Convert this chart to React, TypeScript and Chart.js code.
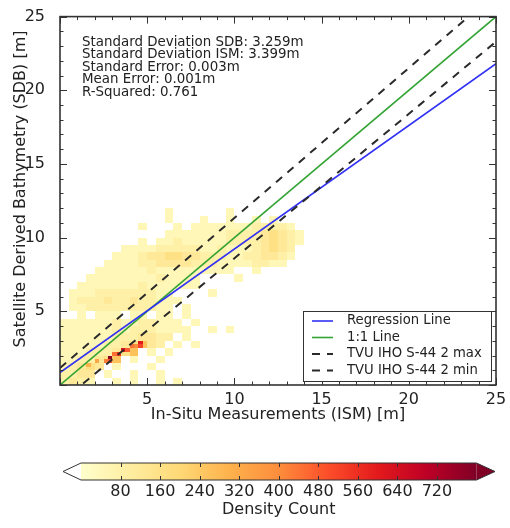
import React, { useEffect, useRef } from 'react';
import { Chart, registerables } from 'chart.js';

Chart.register(...registerables);

const FONT = '"DejaVu Sans", "Liberation Sans", sans-serif';
const TEXT = '#222222';

// Axes
const axisMin = 0;
const axisMax = 25;
const majorStep = 5;
const minorStep = 1;
const xTitle = 'In-Situ Measurements (ISM) [m]';
const yTitle = 'Satellite Derived Bathymetry (SDB) [m]';

// Lines (x endpoints shared)
const lineX = [0, 25];
const regressionY = [0.85, 21.8];
const oneToOneY = [0, 25];
const tvuMaxY = [1.15, 26.6];
const tvuMinY = [-1.2, 23.3];

const legendLabels = ['Regression Line', '1:1 Line', 'TVU IHO S-44 2 max', 'TVU IHO S-44 2 min'];

const statLines = [
  'Standard Deviation SDB: 3.259m',
  'Standard Deviation ISM: 3.399m',
  'Standard Error: 0.003m',
  'Mean Error: 0.001m',
  'R-Squared: 0.761',
];

// Density grid: 0.5 m bins, rows from y=12 downward, columns from x=0
const densityBin = 0.5;
const densityTopY = 12;
const densityLevels = [0, 45, 85, 120, 165, 260, 400, 480, 580, 760];
const densityRows = [
  '            1      1        ',
  '            1   1  1  1 1   ',
  '         1   1 111111122221 ',
  '            1111111222234321',
  '         1 11211111222234321',
  '       11112222211211123432 ',
  '      111233443322211223321 ',
  '     111122333322211112211  ',
  '    1111112111111111  1     ',
  '   1111111121111    1       ',
  '  11111112111111            ',
  ' 111222222211    1          ',
  ' 1222322322111              ',
  ' 112222222211 1             ',
  '  1 111 11 11 1             ',
  '11111121122111 1            ',
  '111111212221111  1 1        ',
  '1111112223322 1             ',
  '111112234532 1 1            ',
  '111222345 1 1               ',
  '1122345 1  1                ',
  '12343 1   1                 ',
  '2233 1  1  1                ',
  '2321  1 1  1 1              ',
];

// High-density cells at 0.25 m resolution: [x, y, count]
const hotBin = 0.25;
const hotCells: [number, number, number][] = [
  [2.75, 1.75, 780],
  [2.5, 1.5, 420],
  [2.75, 1.5, 500],
  [3.0, 2.0, 450],
  [3.25, 2.0, 560],
  [3.5, 2.25, 620],
  [3.75, 2.25, 480],
  [4.0, 2.5, 440],
  [4.25, 2.5, 400],
  [4.5, 2.75, 600],
  [4.5, 2.5, 520],
  [1.5, 1.25, 300],
  [2.0, 1.5, 330],
];

// Colour bar
const colorbarMin = 0;
const colorbarMax = 800;
const colorbarTicks = [80, 160, 240, 320, 400, 480, 560, 640, 720];
const colorbarTitle = 'Density Count';
const ylOrRd = ['#ffffcc', '#ffeda0', '#fed976', '#feb24c', '#fd8d3c', '#fc4e2a', '#e31a1c', '#bd0026', '#800026'];

const BLUE = '#3232f5';
const GREEN = '#33a333';
const DASH = '#2a2a2a';
const DASH_PATTERN = [8, 7];

function hexToRgb(h: string) {
  const n = parseInt(h.slice(1), 16);
  return [(n >> 16) & 255, (n >> 8) & 255, n & 255];
}

function cmap(v: number) {
  const t = Math.max(0, Math.min(1, (v - colorbarMin) / (colorbarMax - colorbarMin)));
  const s = t * (ylOrRd.length - 1);
  const i = Math.min(Math.floor(s), ylOrRd.length - 2);
  const f = s - i;
  const a = hexToRgb(ylOrRd[i]);
  const b = hexToRgb(ylOrRd[i + 1]);
  const c = a.map((av, k) => Math.round(av + (b[k] - av) * f));
  return `rgb(${c[0]},${c[1]},${c[2]})`;
}

const heatmapPlugin = {
  id: 'heatmap',
  beforeDatasetsDraw(chart: any) {
    const { ctx, chartArea, scales } = chart;
    const xs = scales.x;
    const ys = scales.y;
    ctx.save();
    ctx.beginPath();
    ctx.rect(chartArea.left, chartArea.top, chartArea.right - chartArea.left, chartArea.bottom - chartArea.top);
    ctx.clip();
    const drawCell = (x0: number, y0: number, size: number, v: number) => {
      const px0 = xs.getPixelForValue(x0);
      const px1 = xs.getPixelForValue(x0 + size);
      const py0 = ys.getPixelForValue(y0 + size);
      const py1 = ys.getPixelForValue(y0);
      ctx.fillStyle = cmap(v);
      const l = Math.round(px0), r = Math.round(px1), t = Math.round(py0), b = Math.round(py1);
      ctx.fillRect(l, t, r - l, b - t);
    };
    densityRows.forEach((row, r) => {
      for (let c = 0; c < row.length; c++) {
        const ch = row[c];
        if (ch === ' ') continue;
        drawCell(c * densityBin, densityTopY - (r + 1) * densityBin, densityBin, densityLevels[Number(ch)]);
      }
    });
    hotCells.forEach(([hx, hy, v]) => drawCell(hx, hy, hotBin, v));
    ctx.restore();
  },
};

const decorPlugin = {
  id: 'decor',
  afterDatasetsDraw(chart: any) {
    const { ctx, chartArea, scales } = chart;
    const xs = scales.x;
    const ys = scales.y;
    const { left, right, top, bottom } = chartArea;
    ctx.save();
    // ticks (inward on all sides)
    ctx.strokeStyle = '#333';
    ctx.lineWidth = 1;
    ctx.beginPath();
    for (let v = axisMin; v <= axisMax; v += minorStep) {
      const major = v % majorStep === 0;
      const len = major ? 7 : 3.5;
      const px = Math.round(xs.getPixelForValue(v)) + 0.5;
      ctx.moveTo(px, bottom); ctx.lineTo(px, bottom - len);
      ctx.moveTo(px, top); ctx.lineTo(px, top + len);
      const py = Math.round(ys.getPixelForValue(v)) + 0.5;
      ctx.moveTo(left, py); ctx.lineTo(left + len, py);
      ctx.moveTo(right, py); ctx.lineTo(right - len, py);
    }
    ctx.stroke();
    // frame
    ctx.lineWidth = 1.6;
    ctx.strokeStyle = '#333';
    ctx.strokeRect(left, top, right - left, bottom - top);

    // stats text
    ctx.fillStyle = TEXT;
    ctx.font = `13.4px ${FONT}`;
    ctx.textAlign = 'left';
    ctx.textBaseline = 'middle';
    statLines.forEach((s, i) => ctx.fillText(s, left + 22, top + 25.5 + i * 12.5));

    // legend
    const bx = 303, by = 311, bw = 188, bh = 70;
    ctx.fillStyle = '#ffffff';
    ctx.fillRect(bx, by, bw, bh);
    ctx.lineWidth = 1;
    ctx.strokeStyle = '#333';
    ctx.strokeRect(bx + 0.5, by + 0.5, bw, bh);
    const styles = [
      { c: BLUE, d: [] as number[], w: 1.6 },
      { c: GREEN, d: [] as number[], w: 1.6 },
      { c: DASH, d: DASH_PATTERN, w: 2 },
      { c: DASH, d: DASH_PATTERN, w: 2 },
    ];
    legendLabels.forEach((lab, i) => {
      const cy = by + 10 + i * 16.5;
      ctx.save();
      ctx.strokeStyle = styles[i].c;
      ctx.lineWidth = styles[i].w;
      ctx.setLineDash(styles[i].d);
      ctx.beginPath();
      ctx.moveTo(312, cy);
      ctx.lineTo(333, cy);
      ctx.stroke();
      ctx.restore();
      ctx.fillStyle = TEXT;
      ctx.font = `13.2px ${FONT}`;
      ctx.textAlign = 'left';
      ctx.textBaseline = 'middle';
      ctx.fillText(lab, 347, cy);
    });

    // y-axis title
    ctx.save();
    ctx.translate(21, 189);
    ctx.rotate(-Math.PI / 2);
    ctx.font = `16px ${FONT}`;
    ctx.fillStyle = TEXT;
    ctx.textAlign = 'center';
    ctx.textBaseline = 'middle';
    ctx.fillText(yTitle, 0, 0);
    ctx.restore();
    ctx.restore();
  },
  afterDraw(chart: any) {
    const { ctx } = chart;
    // colour bar
    const barL = 81, barR = 476.5, barT = 463, barB = 480, tipL = 63, tipR = 495;
    const mid = (barT + barB) / 2;
    ctx.save();
    const g = ctx.createLinearGradient(barL, 0, barR, 0);
    ylOrRd.forEach((c, i) => g.addColorStop(i / (ylOrRd.length - 1), c));
    ctx.fillStyle = g;
    ctx.fillRect(barL, barT, barR - barL, barB - barT);
    ctx.fillStyle = '#ffffff';
    ctx.beginPath(); ctx.moveTo(barL, barT); ctx.lineTo(tipL, mid); ctx.lineTo(barL, barB); ctx.closePath(); ctx.fill();
    ctx.fillStyle = ylOrRd[ylOrRd.length - 1];
    ctx.beginPath(); ctx.moveTo(barR, barT); ctx.lineTo(tipR, mid); ctx.lineTo(barR, barB); ctx.closePath(); ctx.fill();
    ctx.strokeStyle = '#333';
    ctx.lineWidth = 1;
    ctx.beginPath();
    ctx.moveTo(barL, barT); ctx.lineTo(barR, barT); ctx.lineTo(tipR, mid); ctx.lineTo(barR, barB);
    ctx.lineTo(barL, barB); ctx.lineTo(tipL, mid); ctx.closePath();
    ctx.stroke();
    ctx.beginPath();
    colorbarTicks.forEach((t) => {
      const px = Math.round(barL + ((t - colorbarMin) / (colorbarMax - colorbarMin)) * (barR - barL)) + 0.5;
      ctx.moveTo(px, barT); ctx.lineTo(px, barT + 4);
      ctx.moveTo(px, barB); ctx.lineTo(px, barB - 4);
    });
    ctx.stroke();
    ctx.fillStyle = TEXT;
    ctx.font = `16px ${FONT}`;
    ctx.textAlign = 'center';
    ctx.textBaseline = 'middle';
    colorbarTicks.forEach((t) => {
      const px = barL + ((t - colorbarMin) / (colorbarMax - colorbarMin)) * (barR - barL);
      ctx.fillText(String(t), px, 492);
    });
    ctx.fillText(colorbarTitle, (barL + barR) / 2, 510);
    ctx.restore();
  },
};

function pts(ys: number[]) {
  return lineX.map((x, i) => ({ x, y: ys[i] }));
}

export default function App() {
  const ref = useRef<HTMLCanvasElement | null>(null);
  useEffect(() => {
    document.body.style.margin = '0';
    const canvas = ref.current!;
    const chart = new Chart(canvas, {
      type: 'scatter',
      data: {
        datasets: [
          { label: legendLabels[2], data: pts(tvuMaxY), showLine: true, borderColor: DASH, borderWidth: 2, borderDash: DASH_PATTERN, pointRadius: 0, order: 1 },
          { label: legendLabels[3], data: pts(tvuMinY), showLine: true, borderColor: DASH, borderWidth: 2, borderDash: DASH_PATTERN, pointRadius: 0, order: 2 },
          { label: legendLabels[0], data: pts(regressionY), showLine: true, borderColor: BLUE, borderWidth: 1.6, pointRadius: 0, order: 3 },
          { label: legendLabels[1], data: pts(oneToOneY), showLine: true, borderColor: GREEN, borderWidth: 1.6, pointRadius: 0, order: 4 },
        ],
      },
      options: {
        responsive: false,
        animation: false,
        layout: { padding: { top: 15, right: 14, bottom: 99, left: 0 } },
        plugins: { legend: { display: false }, tooltip: { enabled: false } },
        scales: {
          x: {
            type: 'linear',
            min: axisMin,
            max: axisMax,
            grid: { display: false },
            border: { display: false },
            ticks: {
              stepSize: majorStep,
              padding: -3,
              color: TEXT,
              maxRotation: 0,
              autoSkip: false,
              font: { family: FONT, size: 16 },
              callback: (v: any) => (v === 0 ? '' : String(v)),
            },
            title: { display: true, text: xTitle, color: TEXT, font: { family: FONT, size: 16 }, padding: { top: 0, bottom: 5 } },
            afterFit: (s: any) => { s.height = 44; },
          },
          y: {
            type: 'linear',
            min: axisMin,
            max: axisMax,
            grid: { display: false },
            border: { display: false },
            ticks: {
              stepSize: majorStep,
              padding: 7,
              color: TEXT,
              autoSkip: false,
              font: { family: FONT, size: 16 },
              callback: (v: any) => (v === 0 ? '' : String(v)),
            },
            afterFit: (s: any) => { s.width = 60; },
          },
        },
      },
      plugins: [heatmapPlugin, decorPlugin],
    } as any);
    return () => chart.destroy();
  }, []);
  return (
    <div style={{ width: 510, height: 528, background: '#fff' }}>
      <canvas ref={ref} width={510} height={528} style={{ display: 'block', width: 510, height: 528 }} />
    </div>
  );
}
